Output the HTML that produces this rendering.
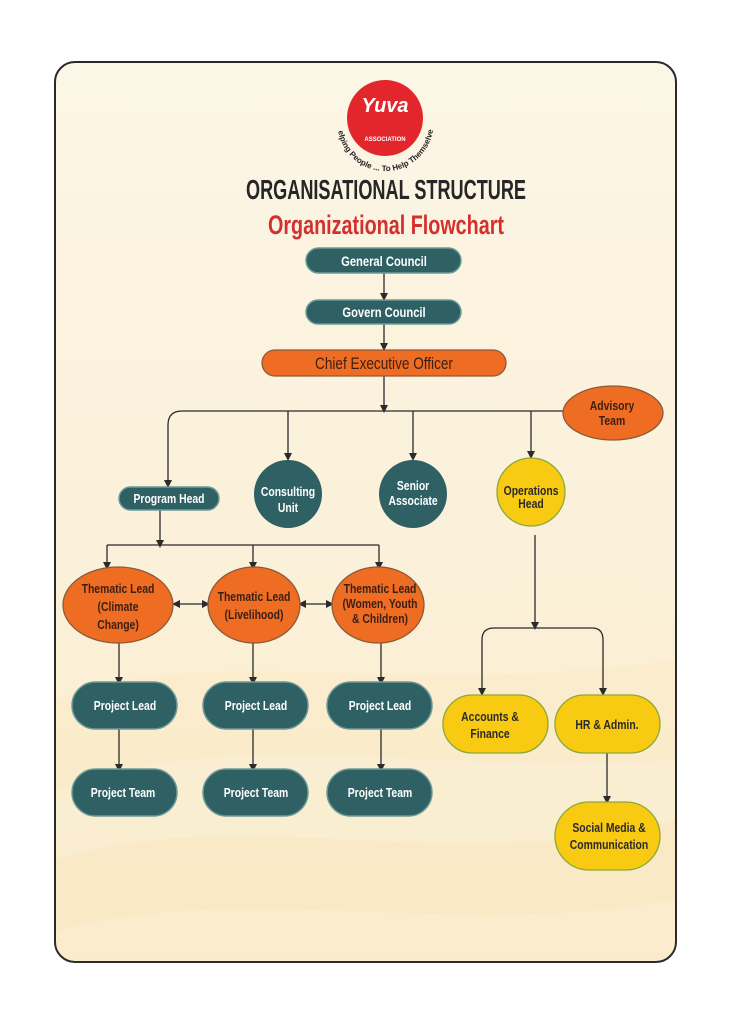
<!DOCTYPE html>
<html><head><meta charset="utf-8"><style>
html,body{margin:0;padding:0;background:#fff;}
svg{display:block}
text{font-family:"Liberation Sans Narrow","Liberation Sans",sans-serif;font-weight:bold;}
.n text{transform-box:fill-box;transform-origin:center;transform:scaleX(0.8);}
</style></head><body>
<svg width="730" height="1024" viewBox="0 0 730 1024" xmlns="http://www.w3.org/2000/svg">
<defs>
<linearGradient id="bg" x1="0" y1="0" x2="0" y2="1">
<stop offset="0" stop-color="#fcf6e6"/><stop offset="0.6" stop-color="#fbf0d8"/><stop offset="1" stop-color="#faeccb"/>
</linearGradient>
<marker id="a" markerWidth="8" markerHeight="8" refX="4" refY="4" orient="auto-start-reverse" markerUnits="userSpaceOnUse">
<path d="M0,0 L8,4 L0,8 z" fill="#2b2b2b"/></marker>
</defs>
<rect width="730" height="1024" fill="#fff"/>
<rect x="55" y="62" width="621" height="900" rx="20" fill="url(#bg)" stroke="#2a2a2a" stroke-width="2"/>
<path d="M56,700 C200,640 400,700 675,660 L675,760 C450,780 250,720 56,790 z" fill="#f8e3b4" opacity="0.25"/>
<path d="M56,860 C250,800 450,880 675,820 L675,900 C450,940 250,880 56,930 z" fill="#f8e0ab" opacity="0.25"/>

<!-- logo -->
<circle cx="385" cy="118" r="38" fill="#e3262b"/>
<text x="385" y="112" fill="#fff" font-size="20" text-anchor="middle" font-style="italic">Yuva</text>
<text x="385" y="141" fill="#fff" font-size="6" text-anchor="middle">ASSOCIATION</text>
<path id="arc" d="M338,130 A48,48 0 0 0 433,130" fill="none"/>
<text font-size="8" fill="#222"><textPath href="#arc" startOffset="50%" text-anchor="middle">Helping People ... To Help Themselves</textPath></text>

<text x="386" y="199" font-size="28" fill="#262626" text-anchor="middle" textLength="280" lengthAdjust="spacingAndGlyphs">ORGANISATIONAL STRUCTURE</text>
<text x="386" y="234" font-size="27" fill="#d4302e" text-anchor="middle" textLength="236" lengthAdjust="spacingAndGlyphs">Organizational Flowchart</text>

<g stroke="#2b2b2b" stroke-width="1.3" fill="none">
<line x1="384" y1="273" x2="384" y2="297" marker-end="url(#a)"/>
<line x1="384" y1="324" x2="384" y2="347" marker-end="url(#a)"/>
<line x1="384" y1="376" x2="384" y2="409" marker-end="url(#a)"/>
<path d="M565,411 L182,411 Q168,411 168,425 L168,484" marker-end="url(#a)"/>
<line x1="288" y1="411" x2="288" y2="457" marker-end="url(#a)"/>
<line x1="413" y1="411" x2="413" y2="457" marker-end="url(#a)"/>
<line x1="531" y1="411" x2="531" y2="455" marker-end="url(#a)"/>
<line x1="160" y1="510" x2="160" y2="544" marker-end="url(#a)"/>
<line x1="107" y1="545" x2="379" y2="545"/>
<line x1="107" y1="545" x2="107" y2="566" marker-end="url(#a)"/>
<line x1="253" y1="545" x2="253" y2="566" marker-end="url(#a)"/>
<line x1="379" y1="545" x2="379" y2="566" marker-end="url(#a)"/>
<line x1="176" y1="604" x2="206" y2="604" marker-start="url(#a)" marker-end="url(#a)"/>
<line x1="302" y1="604" x2="330" y2="604" marker-start="url(#a)" marker-end="url(#a)"/>
<line x1="119" y1="643" x2="119" y2="681" marker-end="url(#a)"/>
<line x1="253" y1="643" x2="253" y2="681" marker-end="url(#a)"/>
<line x1="381" y1="643" x2="381" y2="681" marker-end="url(#a)"/>
<line x1="119" y1="729" x2="119" y2="768" marker-end="url(#a)"/>
<line x1="253" y1="729" x2="253" y2="768" marker-end="url(#a)"/>
<line x1="381" y1="729" x2="381" y2="768" marker-end="url(#a)"/>
<line x1="535" y1="535" x2="535" y2="626" marker-end="url(#a)"/>
<path d="M482,692 L482,640 Q482,628 494,628 L592,628 Q603,628 603,640 L603,692" marker-start="url(#a)" marker-end="url(#a)"/>
<line x1="607" y1="752" x2="607" y2="800" marker-end="url(#a)"/>
</g>

<g stroke="#6e9a97" stroke-width="1.5">
<rect x="306" y="248" width="155" height="25" rx="12.5" fill="#2e6064"/>
<rect x="306" y="300" width="155" height="24" rx="12" fill="#2e6064"/>
<rect x="119" y="487" width="100" height="23" rx="11.5" fill="#2e6064"/>
<circle cx="288" cy="494" r="34" fill="#2e6064" stroke="none"/>
<circle cx="413" cy="494" r="34" fill="#2e6064" stroke="none"/>
<rect x="72" y="682" width="105" height="47" rx="23.5" fill="#2e6064"/>
<rect x="203" y="682" width="105" height="47" rx="23.5" fill="#2e6064"/>
<rect x="327" y="682" width="105" height="47" rx="23.5" fill="#2e6064"/>
<rect x="72" y="769" width="105" height="47" rx="23.5" fill="#2e6064"/>
<rect x="203" y="769" width="105" height="47" rx="23.5" fill="#2e6064"/>
<rect x="327" y="769" width="105" height="47" rx="23.5" fill="#2e6064"/>
</g>
<g stroke="#8a5a3a" stroke-width="1.3" fill="#ee6d23">
<rect x="262" y="350" width="244" height="26" rx="13"/>
<ellipse cx="613" cy="413" rx="50" ry="27"/>
<ellipse cx="118" cy="605" rx="55" ry="38"/>
<ellipse cx="254" cy="605" rx="46" ry="38"/>
<ellipse cx="378" cy="605" rx="46" ry="38"/>
</g>
<g stroke="#8aa83a" stroke-width="1.3" fill="#f8cb12">
<circle cx="531" cy="492" r="34"/>
<rect x="443" y="695" width="105" height="58" rx="29"/>
<rect x="555" y="695" width="105" height="58" rx="29"/>
<rect x="555" y="802" width="105" height="68" rx="34"/>
</g>

<g class="n" font-size="14" fill="#fff" text-anchor="middle">
<text x="384" y="266">General Council</text>
<text x="384" y="317">Govern Council</text>
<text x="169" y="503" font-size="13">Program Head</text>
<text x="288" y="496" font-size="13">Consulting</text><text x="288" y="512" font-size="13">Unit</text>
<text x="413" y="490" font-size="13">Senior</text><text x="413" y="505" font-size="13">Associate</text>
<text x="125" y="710" font-size="13">Project Lead</text>
<text x="256" y="710" font-size="13">Project Lead</text>
<text x="380" y="710" font-size="13">Project Lead</text>
<text x="123" y="797" font-size="13">Project Team</text>
<text x="256" y="797" font-size="13">Project Team</text>
<text x="380" y="797" font-size="13">Project Team</text>
</g>
<g class="n" fill="#3a1f14" text-anchor="middle" font-size="13">
<text x="384" y="369" font-size="17" style="font-weight:normal">Chief Executive Officer</text>
<text x="612" y="410">Advisory</text><text x="612" y="425">Team</text>
<text x="118" y="593">Thematic Lead</text><text x="118" y="611">(Climate</text><text x="118" y="629">Change)</text>
<text x="254" y="601">Thematic Lead</text><text x="254" y="619">(Livelihood)</text>
<text x="380" y="593">Thematic Lead</text><text x="380" y="608">(Women, Youth</text><text x="380" y="623">&amp; Children)</text>
</g>
<g class="n" fill="#2a2a2a" text-anchor="middle" font-size="13">
<text x="531" y="495">Operations</text><text x="531" y="508">Head</text>
<text x="490" y="721">Accounts &amp;</text><text x="490" y="738">Finance</text>
<text x="607" y="729">HR &amp; Admin.</text>
<text x="609" y="832">Social Media &amp;</text><text x="609" y="849">Communication</text>
</g>
</svg>
</body></html>
